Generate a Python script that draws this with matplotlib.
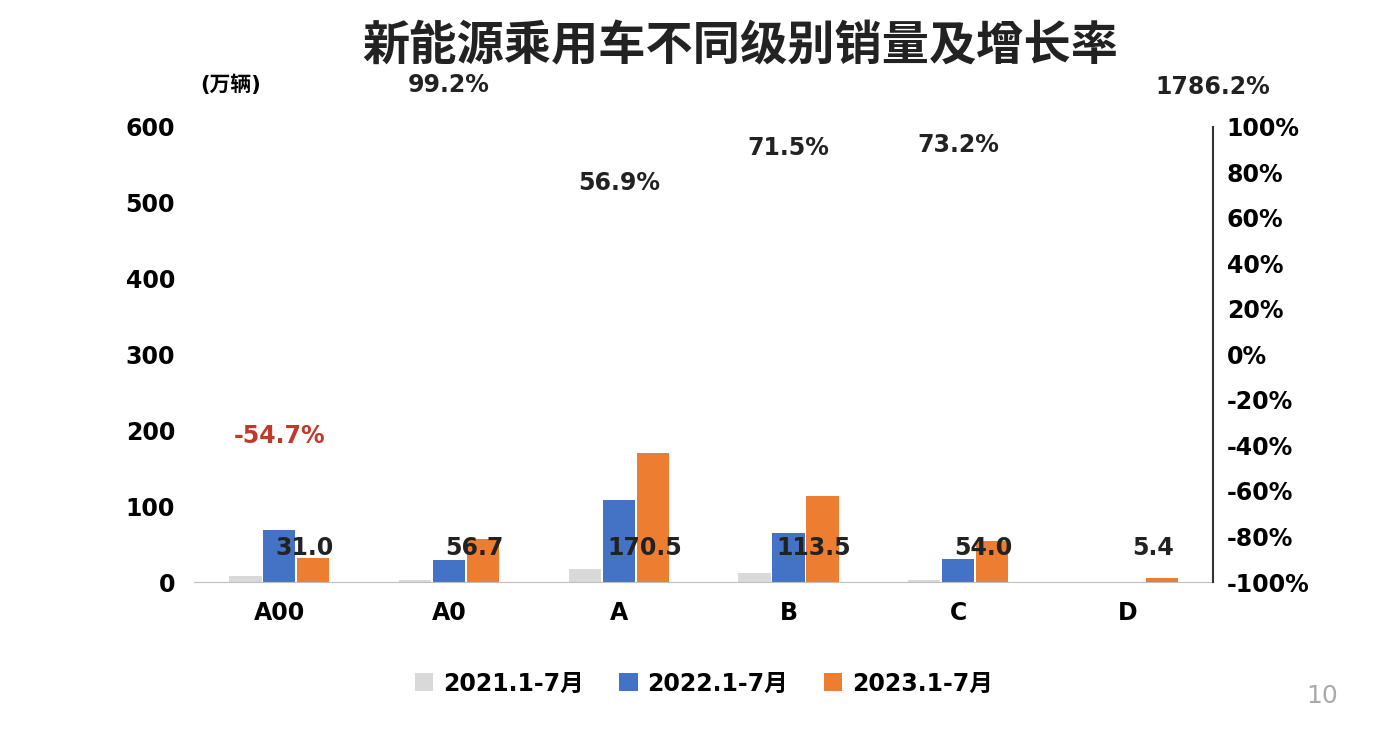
import matplotlib.pyplot as plt
from matplotlib import font_manager
import numpy as np

cjk = [f.name for f in font_manager.fontManager.ttflist if "CJK" in f.name]
plt.rcParams["font.family"] = ["DejaVu Sans"] + sorted(set(cjk))

categories = ["A00", "A0", "A", "B", "C", "D"]
sales_2021 = [8, 2, 17, 12, 2, 0.1]
sales_2022 = [68.5, 29, 108, 65, 30, 0.3]
sales_2023 = [31.0, 56.7, 170.5, 113.5, 54.0, 5.4]
growth_labels = ["-54.7%", "99.2%", "56.9%", "71.5%", "73.2%", "1786.2%"]
growth_label_y = [-36, 118.5, 75.5, 90.5, 92, 117.5]   # right-axis %, where text sits
series_names = ["2021.1-7月", "2022.1-7月", "2023.1-7月"]

colors = ["#d9d9d9", "#4472c4", "#ed7d31"]

fig = plt.figure(figsize=(13.99, 7.33), dpi=100)
ax = fig.add_axes([0.139, 0.206, 0.728, 0.621])
x = np.arange(len(categories))
w = 0.19
for i, (vals, name) in enumerate(zip([sales_2021, sales_2022, sales_2023], series_names)):
    ax.bar(x + (i - 1) * 0.2, vals, w, color=colors[i], label=name)

for xi, v in zip(x, sales_2023):
    ax.text(xi + 0.15, 45, f"{v:.1f}", ha="center", va="center", fontsize=17, fontweight="bold", color="#222222")

ax.set_xlim(-0.5, 5.5)
ax.set_ylim(0, 600)
ax.set_yticks(range(0, 601, 100))
ax.set_xticks(x)
ax.set_xticklabels(categories)
ax.tick_params(axis="both", length=0, labelsize=17, pad=14)
for lab in ax.get_xticklabels() + ax.get_yticklabels():
    lab.set_fontweight("bold")
for s in ["top", "right", "left"]:
    ax.spines[s].set_visible(False)
ax.spines["bottom"].set_color("#bfbfbf")

ax2 = ax.twinx()
ax2.set_ylim(-100, 100)
ax2.set_yticks(range(-100, 101, 20))
ax2.set_yticklabels([f"{t}%" for t in range(-100, 101, 20)])
ax2.tick_params(axis="y", length=0, labelsize=17, pad=10)
for lab in ax2.get_yticklabels():
    lab.set_fontweight("bold")
for s in ["top", "left", "bottom"]:
    ax2.spines[s].set_visible(False)
ax2.spines["right"].set_color("#333333")
ax2.spines["right"].set_linewidth(1.5)

for i, (lbl, yy) in enumerate(zip(growth_labels, growth_label_y)):
    xx = x[i] + (0.5 if i == 5 else 0)
    col = "#c0392b" if lbl.startswith("-") else "#222222"
    ax2.text(xx, yy, lbl, ha="center", va="center", fontsize=17, fontweight="bold",
             color=col, clip_on=False)

fig.text(0.529, 0.935, "新能源乘用车不同级别销量及增长率", ha="center", va="center",
         fontsize=34, fontweight="bold", color="#222222")
fig.text(0.165, 0.885, "(万辆)", ha="center", va="center", fontsize=15, fontweight="bold")
fig.text(0.945, 0.05, "10", ha="center", va="center", fontsize=18, color="#aaaaaa")

ax.legend(loc="upper center", bbox_to_anchor=(0.5, -0.15), ncol=3, frameon=False,
          prop={"size": 17, "weight": "bold"}, handlelength=0.8, handleheight=0.8,
          columnspacing=1.5, handletextpad=0.4)

fig.savefig("out.png", dpi=100)
